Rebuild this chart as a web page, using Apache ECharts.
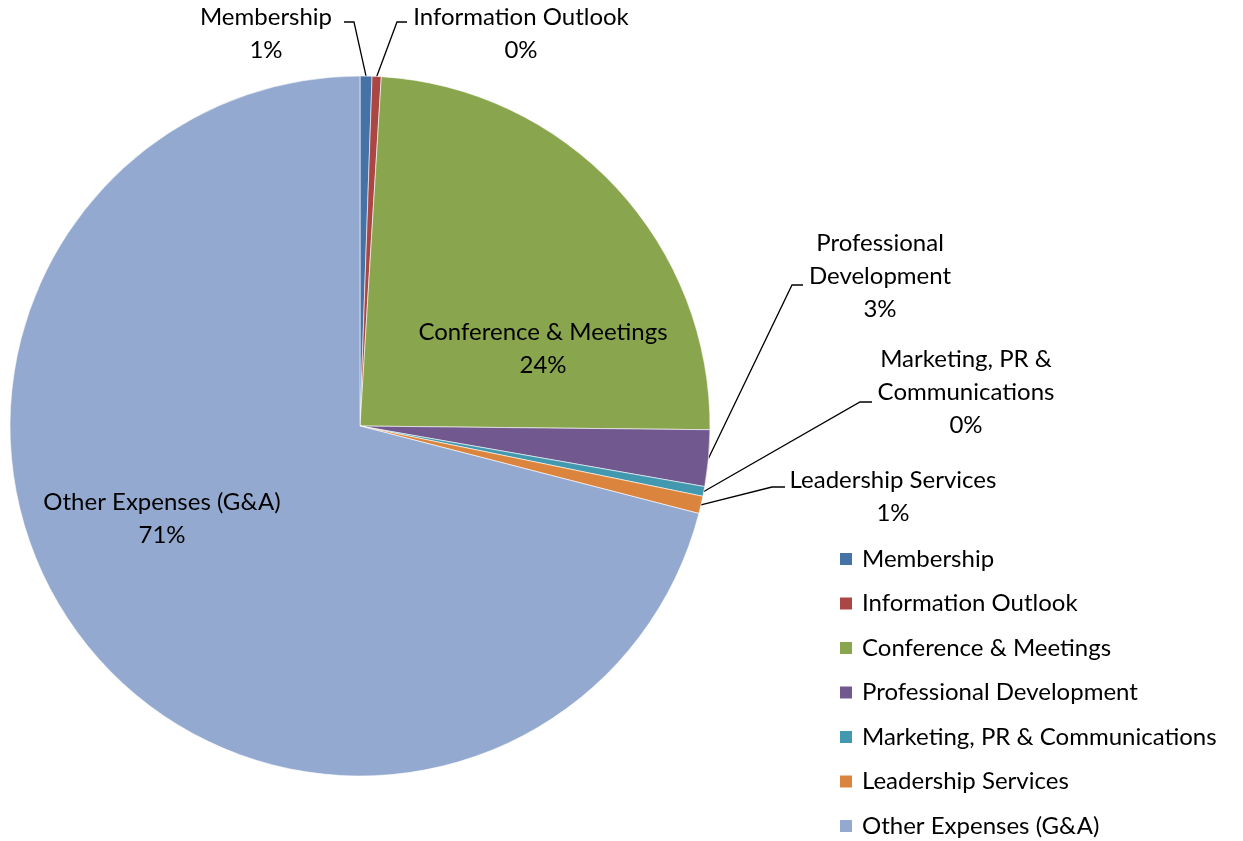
<!DOCTYPE html>
<html>
<head>
<meta charset="utf-8">
<script src="https://cdn.jsdelivr.net/npm/echarts@6/dist/echarts.min.js"></script>
<style>
html, body { margin: 0; background: #fff; }
#chart { width: 1243px; height: 841px; }
</style>
</head>
<body>
<div id="chart"></div>
<script>
var categories = ['Membership', 'Information Outlook', 'Conference & Meetings', 'Professional Development',
    'Marketing, PR & Communications', 'Leadership Services', 'Other Expenses (G&A)'];
// same names, wrapped the way the slice labels show them
var labelNames = ['Membership', 'Information Outlook', 'Conference & Meetings', 'Professional\nDevelopment',
    'Marketing, PR &\nCommunications', 'Leadership Services', 'Other Expenses (G&A)'];
var shares = [0.55, 0.42, 24.2, 2.6, 0.45, 0.8, 70.98];
var colors = ['#4572A7', '#AA4643', '#89A54E', '#71588F', '#4198AF', '#DB843D', '#93A9CF'];

var fontName = 'Lato';
var fontPx = 24;

// where each label sits; bend/end = the bent part of the leader line (none = label inside slice)
var labelSpots = [
    {x: 266, y: 34, bend: [354, 22], end: [344, 22]},
    {x: 521, y: 34, bend: [397, 22], end: [407, 22]},
    {x: 543, y: 349},
    {x: 880, y: 276, bend: [792, 285], end: [803, 285]},
    {x: 966, y: 392, bend: [860, 402], end: [872, 402]},
    {x: 893, y: 497, bend: [772, 487], end: [785, 487]},
    {x: 162, y: 519}
];

var total = shares.reduce(function (a, b) { return a + b; }, 0);

var pieData = categories.map(function (name, i) {
    var inside = !labelSpots[i].bend;
    return {
        name: name,
        value: shares[i],
        itemStyle: {color: colors[i]},
        label: {position: inside ? 'inside' : 'outside'},
        labelLine: {show: !inside}
    };
});

var myChart = echarts.init(document.getElementById('chart'));

myChart.setOption({
    animation: false,
    backgroundColor: '#fff',
    legend: {
        orient: 'vertical',
        left: 838,
        top: 547,
        padding: 0,
        itemWidth: 14,
        itemHeight: 14,
        itemGap: 20.5,
        icon: 'rect',
        data: categories,
        textStyle: {
            fontFamily: fontName,
            fontSize: fontPx,
            color: '#000',
            padding: [0, 0, 0, 4]
        }
    },
    series: [{
        type: 'pie',
        center: [360, 426],
        radius: 350,
        startAngle: 90,
        clockwise: true,
        avoidLabelOverlap: false,
        minShowLabelAngle: 0,
        emphasis: {disabled: true},
        itemStyle: {borderColor: '#fff', borderWidth: 0.6},
        label: {
            fontFamily: fontName,
            fontSize: fontPx,
            lineHeight: 33,
            color: '#000',
            formatter: function (p) {
                return labelNames[p.dataIndex] + '\n' + Math.round(p.value / total * 100) + '%';
            }
        },
        labelLine: {
            length: 20,
            length2: 10,
            lineStyle: {color: '#000', width: 1.3}
        },
        labelLayout: function (params) {
            var s = labelSpots[params.dataIndex];
            var out = {x: s.x, y: s.y, align: 'center', verticalAlign: 'middle'};
            if (s.bend && params.labelLinePoints) {
                out.labelLinePoints = [params.labelLinePoints[0], s.bend, s.end];
            }
            return out;
        },
        data: pieData
    }]
});
</script>
</body>
</html>
